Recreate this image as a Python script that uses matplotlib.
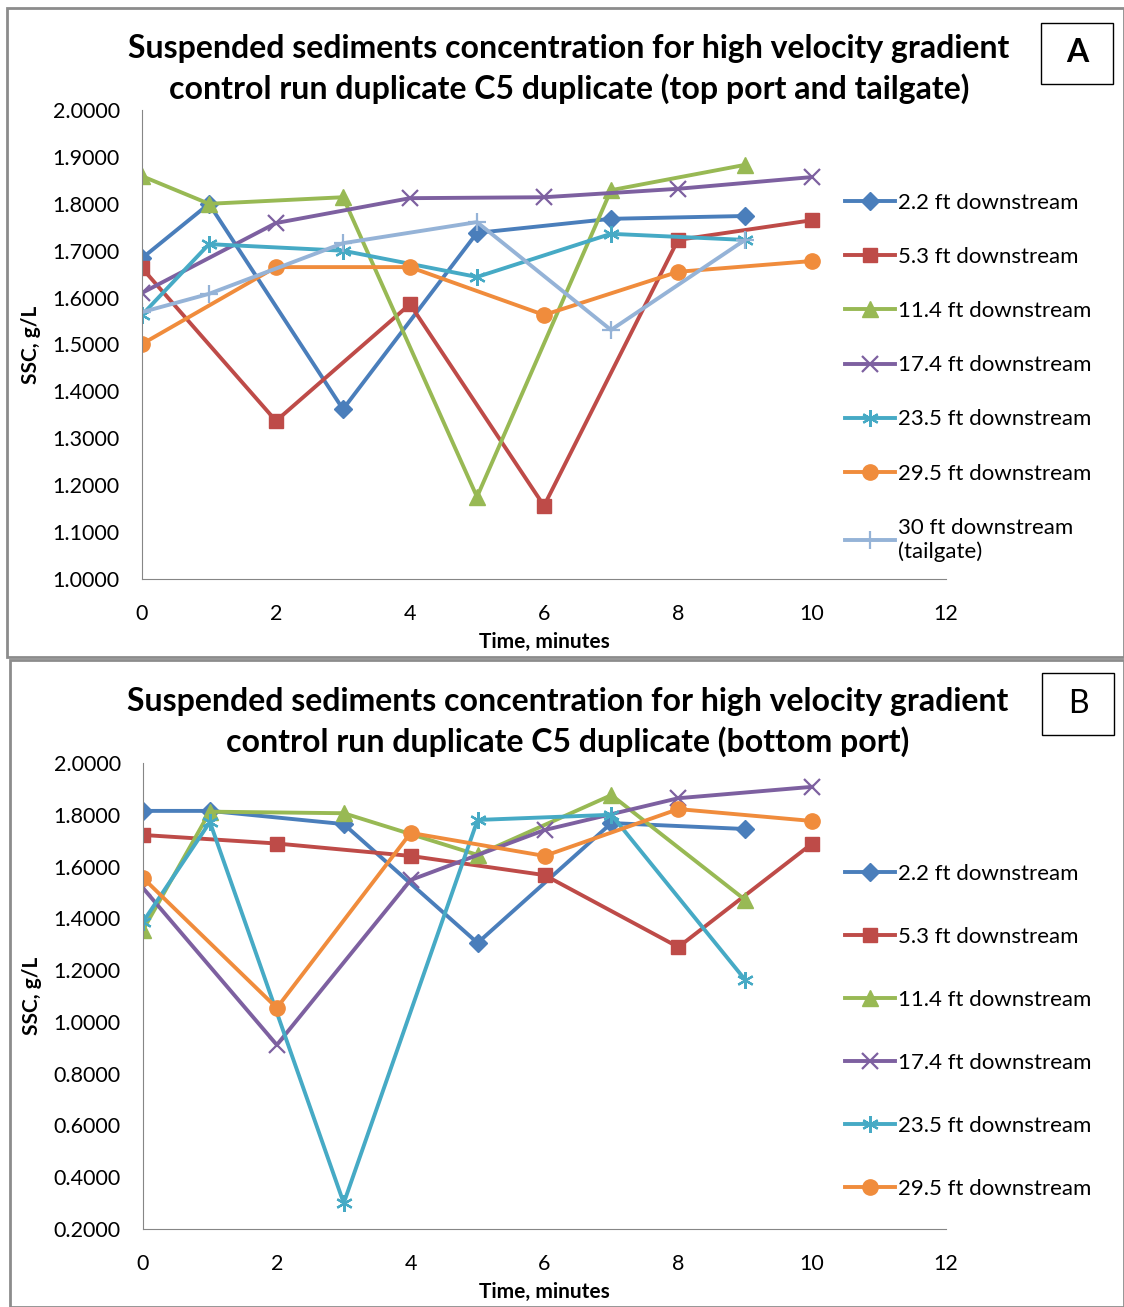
import matplotlib.pyplot as plt
from matplotlib.patches import Rectangle
import numpy as np

plt.rcParams['font.family'] = ['Lato', 'DejaVu Sans']

labels_a = ["2.2 ft downstream", "5.3 ft downstream", "11.4 ft downstream",
            "17.4 ft downstream", "23.5 ft downstream", "29.5 ft downstream",
            "30 ft downstream\n(tailgate)"]
labels_b = labels_a[:6]

# panel A: top port and tailgate
a_22_t = [0, 1, 3, 5, 7, 9]
a_22 = [1.684, 1.800, 1.362, 1.738, 1.768, 1.774]
a_53_t = [0, 2, 4, 6, 8, 10]
a_53 = [1.663, 1.337, 1.586, 1.156, 1.723, 1.765]
a_114_t = [0, 1, 3, 5, 7, 9]
a_114 = [1.859, 1.800, 1.814, 1.175, 1.829, 1.883]
a_174_t = [0, 2, 4, 6, 8, 10]
a_174 = [1.610, 1.759, 1.812, 1.814, 1.832, 1.857]
a_235_t = [0, 1, 3, 5, 7, 9]
a_235 = [1.563, 1.714, 1.700, 1.644, 1.736, 1.723]
a_295_t = [0, 2, 4, 6, 8, 10]
a_295 = [1.501, 1.665, 1.665, 1.563, 1.655, 1.678]
a_30_t = [0, 1, 3, 5, 7, 9]
a_30 = [1.569, 1.608, 1.716, 1.761, 1.531, 1.723]

# panel B: bottom port
b_22_t = [0, 1, 3, 5, 7, 9]
b_22 = [1.815, 1.815, 1.764, 1.305, 1.768, 1.745]
b_53_t = [0, 2, 4, 6, 8, 10]
b_53 = [1.722, 1.689, 1.641, 1.567, 1.289, 1.689]
b_114_t = [0, 1, 3, 5, 7, 9]
b_114 = [1.355, 1.812, 1.806, 1.645, 1.876, 1.471]
b_174_t = [0, 2, 4, 6, 8, 10]
b_174 = [1.517, 0.911, 1.548, 1.741, 1.864, 1.908]
b_235_t = [0, 1, 3, 5, 7, 9]
b_235 = [1.386, 1.772, 0.300, 1.780, 1.800, 1.162]
b_295_t = [0, 2, 4, 6, 8, 10]
b_295 = [1.556, 1.054, 1.730, 1.641, 1.822, 1.776]

colors = ['#4A7EBB', '#BE4B48', '#98B954', '#7D60A0', '#46AAC5', '#F08C3C', '#95B3D7']
markers = ['D', 's', '^', 'x', (6, 2, 0), 'o', '+']
msizes = [9, 10, 11, 11, 12, 11, 13]

W, H = 1124, 1307
fig = plt.figure(figsize=(W / 100, H / 100), dpi=100)


def px(x, y):
    return x / W, 1 - y / H


def draw_panel(ax, series, labels, yticks, leg_top, leg_space):
    for i, (t, v) in enumerate(series):
        mew = 1.6 if markers[i] in ('x', '+', (6, 2, 0)) else 1
        ax.plot(t, v, color=colors[i], lw=2.8, marker=markers[i], ms=msizes[i],
                mew=mew, label=labels[i])
    ax.set_xlim(0, 12)
    ax.set_xticks(np.arange(0, 13, 2))
    ax.set_yticks(yticks)
    ax.set_ylim(yticks[0], yticks[-1])
    ax.set_yticklabels(['{:.4f}'.format(v) for v in yticks])
    ax.tick_params(length=0, labelsize=15.5)
    ax.tick_params(axis='x', pad=18)
    ax.tick_params(axis='y', pad=16)
    for s in ['top', 'right']:
        ax.spines[s].set_visible(False)
    for s in ['left', 'bottom']:
        ax.spines[s].set_color('#868686')
    ax.set_xlabel('Time, minutes', fontsize=15, fontweight='bold', labelpad=6)
    ax.set_ylabel('SSC, g/L', fontsize=15, fontweight='bold', labelpad=8)
    ax.patch.set_alpha(0)
    lx, ly = px(845, leg_top)
    fig.legend(loc='upper left', bbox_to_anchor=(lx, ly), frameon=False,
               fontsize=16, handlelength=2.25, handletextpad=0.15,
               labelspacing=leg_space, borderaxespad=0, borderpad=0,
               handles=ax.get_lines())


# panel frames
fig.patches.append(Rectangle(px(7, 657), 1117 / W, 649 / H, transform=fig.transFigure,
                             fill=False, ec='#8C8C8C', lw=2))
fig.patches.append(Rectangle(px(10, 1307), 1114 / W, 647 / H, transform=fig.transFigure,
                             fill=False, ec='#8C8C8C', lw=2))

l, b = px(142, 579)
ax1 = fig.add_axes([l, b, 804 / W, 469 / H])
series_a = [(a_22_t, a_22), (a_53_t, a_53), (a_114_t, a_114), (a_174_t, a_174),
            (a_235_t, a_235), (a_295_t, a_295), (a_30_t, a_30)]
draw_panel(ax1, series_a, labels_a, np.round(np.arange(1.0, 2.001, 0.1), 1), 193, 1.535)

l, b = px(143, 1229)
ax2 = fig.add_axes([l, b, 803 / W, 466 / H])
series_b = [(b_22_t, b_22), (b_53_t, b_53), (b_114_t, b_114), (b_174_t, b_174),
            (b_235_t, b_235), (b_295_t, b_295)]
draw_panel(ax2, series_b, labels_b, np.round(np.arange(0.2, 2.001, 0.2), 1), 864, 1.935)

# titles
x, y = px(569, 69)
fig.text(x, y, 'Suspended sediments concentration for high velocity gradient\n'
         'control run duplicate C5 duplicate (top port and tailgate)',
         ha='center', va='center', fontsize=23, fontweight='bold', linespacing=1.38)
x, y = px(568, 722)
fig.text(x, y, 'Suspended sediments concentration for high velocity gradient\n'
         'control run duplicate C5 duplicate (bottom port)',
         ha='center', va='center', fontsize=23, fontweight='bold', linespacing=1.38)

# letter boxes
fig.patches.append(Rectangle(px(1041, 84), 72 / W, 61 / H, transform=fig.transFigure,
                             fill=False, ec='black', lw=1))
x, y = px(1077, 53)
fig.text(x, y, 'A', ha='center', va='center', fontsize=23, fontweight='bold')
fig.patches.append(Rectangle(px(1042, 735), 72 / W, 62 / H, transform=fig.transFigure,
                             fill=False, ec='black', lw=1))
x, y = px(1078, 704)
fig.text(x, y, 'B', ha='center', va='center', fontsize=23)

fig.savefig('out.png', dpi=100)
